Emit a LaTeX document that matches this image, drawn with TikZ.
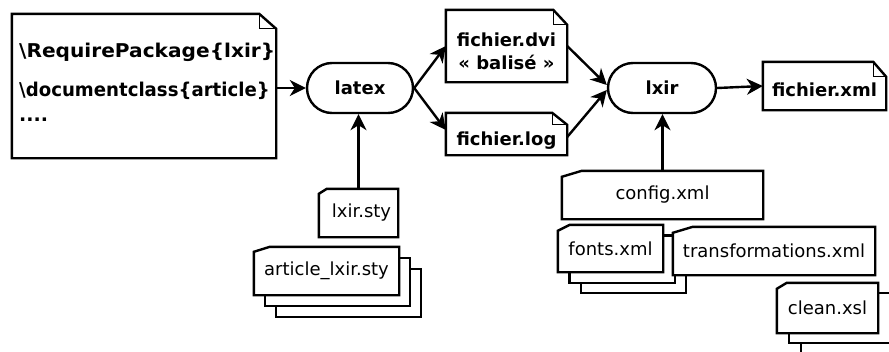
\documentclass[tikz,border=0pt]{standalone}
\usepackage{fontspec}
\setmainfont{DejaVu Sans}
\usetikzlibrary{arrows.meta,shapes.misc}
\pgfdeclarelayer{stack}
\pgfsetlayers{stack,main}

% outline of a document with a folded top-right corner: node, fold width, fold height
\newcommand{\foldedoutline}[3]{%
  \draw[docline] (#1.north west) -- ([xshift=-#2]#1.north east)
    -- ([yshift=-#3]#1.north east) -- (#1.south east) -- (#1.south west) -- cycle;
  \draw[foldline] ([xshift=-#2]#1.north east) |- ([yshift=-#3]#1.north east);}
% outline of a file card with a cut top-left corner: node, cut width, cut height
\newcommand{\cutoutline}[3]{%
  \draw[docline] ([yshift=-#3]#1.north west) -- ([xshift=#2]#1.north west)
    -- (#1.north east) -- (#1.south east) -- (#1.south west) -- cycle;}
% two further sheets stacked behind a card: node, step right, step down
\newcommand{\sheetsbehind}[3]{%
  \begin{pgfonlayer}{stack}
    \foreach \k in {2,1}{
      \draw[docline,fill=white]
        ([shift={(\k*#2,\k*#3)}]#1.north west) rectangle ([shift={(\k*#2,\k*#3)}]#1.south east);}
  \end{pgfonlayer}}

\tikzset{
  docline/.style={line width=2.4pt, line join=miter},
  foldline/.style={line width=1pt},
  boldtext/.style={font=\fontsize{18}{23}\selectfont\bfseries},
  plaintext/.style={font=\fontsize{18}{21}\selectfont},
  doc/.style={fill=white, inner sep=0pt},
  process/.style={rounded rectangle, draw, line width=2.4pt, inner sep=0pt,
    minimum width=106pt, minimum height=50pt, boldtext},
  flow/.style={line width=2.4pt, -{Stealth[length=16pt,width=16pt,inset=5pt]}},
}

\begin{document}
\begin{tikzpicture}[x=1pt,y=-1pt]
\useasboundingbox (0,0) rectangle (889,351);

% source document
\node[doc, minimum width=264pt, minimum height=144pt] (src) at (144,86) {};
\foldedoutline{src}{17pt}{15pt}
\node[anchor=north west, align=left, inner sep=0pt,
      font=\fontsize{19}{22}\selectfont\bfseries] (srctext) at (19,42.5)
  {\scalebox{1.06}[1]{\textbackslash RequirePackage\{lxir\}}\\[17pt]
   \scalebox{0.955}[1]{\textbackslash documentclass\{article\}}\\[3pt]
   ....};

% processes
\node[process] (latex) at (360,88) {latex};
\node[process, minimum width=108pt] (lxir) at (662,88) {lxir};

% intermediate and final documents
\node[doc, minimum width=121pt, minimum height=72pt,
      label={[boldtext, align=center, yshift=-5pt]center:{fichier.dvi\\« balisé »}}]
  (dvi) at (506.5,46) {};
\foldedoutline{dvi}{14pt}{15pt}
\node[doc, minimum width=121pt, minimum height=42pt,
      label={[boldtext, yshift=-7pt]center:fichier.log}] (log) at (506.5,134) {};
\foldedoutline{log}{15pt}{12pt}
\node[doc, minimum width=123pt, minimum height=48pt,
      label={[boldtext, yshift=-4pt]center:fichier.xml}] (xml) at (824.5,86) {};
\foldedoutline{xml}{13pt}{15pt}

% style files
\node[doc, plaintext, minimum width=79pt, minimum height=48pt,
      label={[plaintext, xshift=3pt]center:lxir.sty}] (lxirsty) at (358.5,213) {};
\cutoutline{lxirsty}{8pt}{5pt}
\node[doc, plaintext, minimum width=145pt, minimum height=48pt] (article) at (326.5,271) {article\_lxir.sty};
\cutoutline{article}{16pt}{5pt}
\sheetsbehind{article}{11}{11}

% configuration files
\node[doc, plaintext, minimum width=201pt, minimum height=48pt] (config) at (662.5,195) {config.xml};
\cutoutline{config}{20pt}{6pt}
\node[doc, plaintext, minimum width=105pt, minimum height=47pt] (fonts) at (610.5,248.5) {fonts.xml};
\cutoutline{fonts}{12pt}{6pt}
\sheetsbehind{fonts}{11.5}{10.5}
\node[doc, plaintext, minimum width=202pt, minimum height=48pt] (transf) at (774,251) {transformations.xml};
\cutoutline{transf}{20pt}{6pt}
\node[doc, plaintext, minimum width=101pt, minimum height=50pt] (clean) at (827.5,308) {clean.xsl};
\cutoutline{clean}{10pt}{6pt}
\sheetsbehind{clean}{12}{10}

% connectors
\draw[flow] (src.east |- latex.west) -- (latex.west);
\draw[flow] (latex.east) -- (dvi.west);
\draw[flow] (latex.east) -- ([yshift=4pt]log.west);
\draw[flow] (dvi.east) -- ([yshift=3pt]lxir.west);
\draw[flow] ([yshift=-3pt]log.east) -- ([yshift=-2pt]lxir.west);
\draw[flow] (lxir.east) -- (xml.west);
\draw[flow] (lxirsty.north) -- (lxirsty.north |- latex.south);
\draw[flow] (config.north) -- (config.north |- lxir.south);
\end{tikzpicture}
\end{document}
